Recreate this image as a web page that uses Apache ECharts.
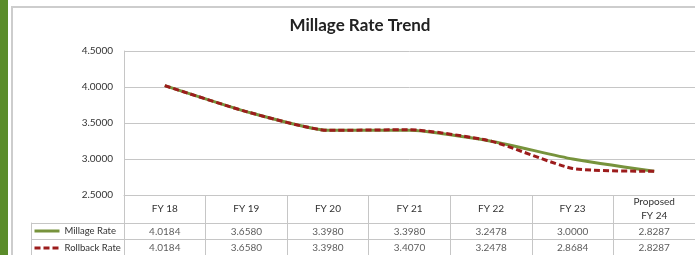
<!DOCTYPE html>
<html>
<head>
<meta charset="utf-8">
<title>Millage Rate Trend</title>
<script src="https://cdn.jsdelivr.net/npm/echarts@6/dist/echarts.min.js"></script>
<style>
    html, body { margin: 0; padding: 0; background: #fff; }
    #divChart { width: 695px; height: 255px; }
</style>
</head>
<body>
<div id="divChart"></div>
<script>
    // chart data
    var categories = ['FY 18', 'FY 19', 'FY 20', 'FY 21', 'FY 22', 'FY 23', 'Proposed\nFY 24'];
    var millageRate = [4.0184, 3.6580, 3.3980, 3.3980, 3.2478, 3.0000, 2.8287];
    var rollbackRate = [4.0184, 3.6580, 3.3980, 3.4070, 3.2478, 2.8684, 2.8287];
    var rowNames = ['Millage Rate', 'Rollback Rate'];
    var yMin = 2.5, yMax = 4.5, yStep = 0.5;

    var font = 'Lato, Calibri, sans-serif';
    var gridColor = '#C6C6C6';
    var green = '#77933C';
    var red = '#9C1C1C';

    // table cells: [column, row, value]
    var tableCells = [];
    for (var i = 0; i < categories.length; i++) {
        tableCells.push([i, 0, millageRate[i]]);
        tableCells.push([i, 1, rollbackRate[i]]);
    }

    var myChart = echarts.init(document.getElementById('divChart'));
    var option = {
        animation: false,
        title: {
            text: 'Millage Rate Trend',
            left: 360,
            textAlign: 'center',
            top: 17,
            padding: 0,
            textStyle: { fontFamily: font, fontSize: 17, fontWeight: 'bold', color: '#222' }
        },
        graphic: [
            { type: 'rect', shape: { x: 0, y: 0, width: 8, height: 255 }, style: { fill: '#5B8C2A' }, z: -1 },
            { type: 'rect', shape: { x: 12, y: 7, width: 700, height: 270 }, style: { fill: null, stroke: '#CDCDCD', lineWidth: 2 }, z: -1 }
        ],
        legend: {
            orient: 'vertical',
            left: 33,
            top: 226,
            padding: 0,
            itemWidth: 25,
            itemHeight: 10,
            itemGap: 7,
            selectedMode: false,
            data: rowNames,
            itemStyle: { opacity: 0 },
            lineStyle: { width: 3 },
            textStyle: { fontFamily: font, fontSize: 9.5, color: '#333' }
        },
        grid: [
            { left: 124, top: 51, width: 572, height: 144 },
            { left: 124, top: 223, width: 572, height: 34 }
        ],
        xAxis: [
            {
                type: 'category',
                gridIndex: 0,
                data: categories,
                boundaryGap: true,
                axisLine: { lineStyle: { color: gridColor, width: 1 } },
                axisTick: { show: true, interval: 0, alignWithLabel: false, length: 62, lineStyle: { color: gridColor } },
                axisLabel: { interval: 0, margin: 14, verticalAlign: 'middle', lineHeight: 14, fontFamily: font, fontSize: 10, color: '#333' },
                splitLine: { show: false }
            },
            {
                type: 'category',
                gridIndex: 1,
                data: categories,
                boundaryGap: true,
                axisLine: { show: false },
                axisTick: { show: false },
                axisLabel: { show: false },
                splitLine: { show: false }
            }
        ],
        yAxis: [
            {
                type: 'value',
                gridIndex: 0,
                min: yMin,
                max: yMax,
                interval: yStep,
                axisLine: { show: true, lineStyle: { color: gridColor } },
                axisTick: { show: false },
                axisLabel: { margin: 11, fontFamily: font, fontSize: 10, color: '#333', formatter: function (v) { return v.toFixed(4); } },
                splitLine: { lineStyle: { color: gridColor, width: 1 } }
            },
            {
                type: 'category',
                gridIndex: 1,
                data: rowNames,
                inverse: true,
                boundaryGap: true,
                axisLine: { show: true, lineStyle: { color: gridColor } },
                axisTick: { show: true, interval: 0, alignWithLabel: false, length: 93, lineStyle: { color: gridColor } },
                axisLabel: { show: false },
                splitLine: { show: true, interval: 0, lineStyle: { color: gridColor } }
            },
            {
                type: 'category',
                gridIndex: 1,
                data: rowNames,
                inverse: true,
                position: 'left',
                offset: 93,
                axisLine: { show: true, lineStyle: { color: gridColor } },
                axisTick: { show: false },
                axisLabel: { show: false },
                splitLine: { show: false }
            }
        ],
        series: [
            {
                name: 'Millage Rate',
                type: 'line',
                xAxisIndex: 0,
                yAxisIndex: 0,
                data: millageRate,
                smooth: 0.18,
                symbol: 'none',
                color: green,
                lineStyle: { color: green, width: 3 },
                z: 2
            },
            {
                name: 'Rollback Rate',
                type: 'line',
                xAxisIndex: 0,
                yAxisIndex: 0,
                data: rollbackRate,
                smooth: 0.18,
                symbol: 'none',
                color: red,
                lineStyle: { color: red, width: 3, type: [6, 3] },
                z: 3
            },
            {
                name: 'table',
                type: 'scatter',
                xAxisIndex: 1,
                yAxisIndex: 1,
                data: tableCells,
                symbolSize: 0,
                itemStyle: { color: 'transparent' },
                label: {
                    show: true,
                    position: 'inside',
                    offset: [0, 1],
                    fontFamily: font,
                    fontSize: 10,
                    color: '#333',
                    formatter: function (p) { return p.value[2].toFixed(4); }
                }
            }
        ]
    };
    myChart.setOption(option);
</script>
</body>
</html>
